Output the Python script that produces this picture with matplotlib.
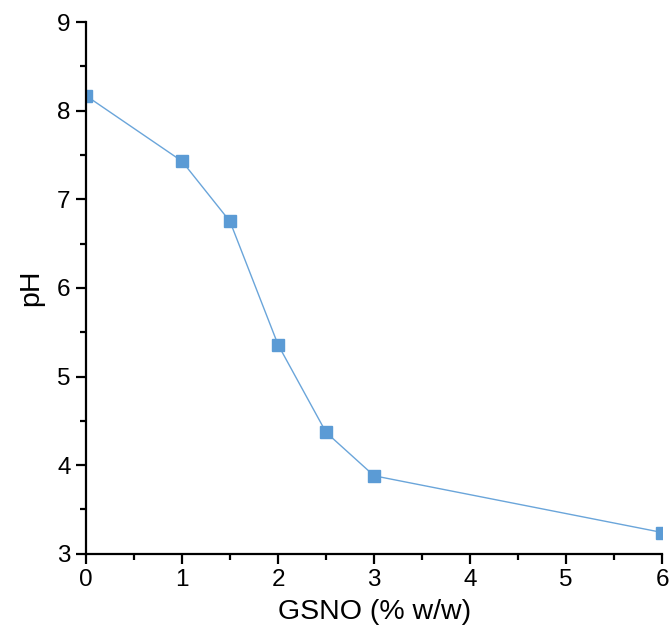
import matplotlib.pyplot as plt
from matplotlib.ticker import MultipleLocator

plt.rcParams['font.family'] = ['Liberation Sans', 'DejaVu Sans']

# dados
gsno = [0, 1, 1.5, 2, 2.5, 3, 6]
ph = [8.17, 7.43, 6.75, 5.36, 4.37, 3.88, 3.24]

fig = plt.figure(figsize=(6.71, 6.3), dpi=100)
ax = fig.add_axes([0.128, 0.121, 0.859, 0.844])

ax.plot(gsno, ph, color='#6AA5DA', lw=1, marker='s', ms=8, mec='#5B9BD5', mfc='#5B9BD5')

ax.set_xlim(0, 6)
ax.set_ylim(3, 9)
ax.xaxis.set_major_locator(MultipleLocator(1))
ax.xaxis.set_minor_locator(MultipleLocator(0.5))
ax.yaxis.set_major_locator(MultipleLocator(1))
ax.yaxis.set_minor_locator(MultipleLocator(0.5))

for s in ['top', 'right']:
    ax.spines[s].set_visible(False)
for s in ['left', 'bottom']:
    ax.spines[s].set_linewidth(1.6)

ax.tick_params(which='major', direction='out', length=7, width=1.6, labelsize=17.5, pad=4)
ax.tick_params(which='minor', direction='out', length=4, width=1.6)

ax.set_xlabel('GSNO (% w/w)', fontsize=20.5, labelpad=6)
ax.set_ylabel('pH', fontsize=20.5, labelpad=9)

fig.savefig('out.png', dpi=100)
